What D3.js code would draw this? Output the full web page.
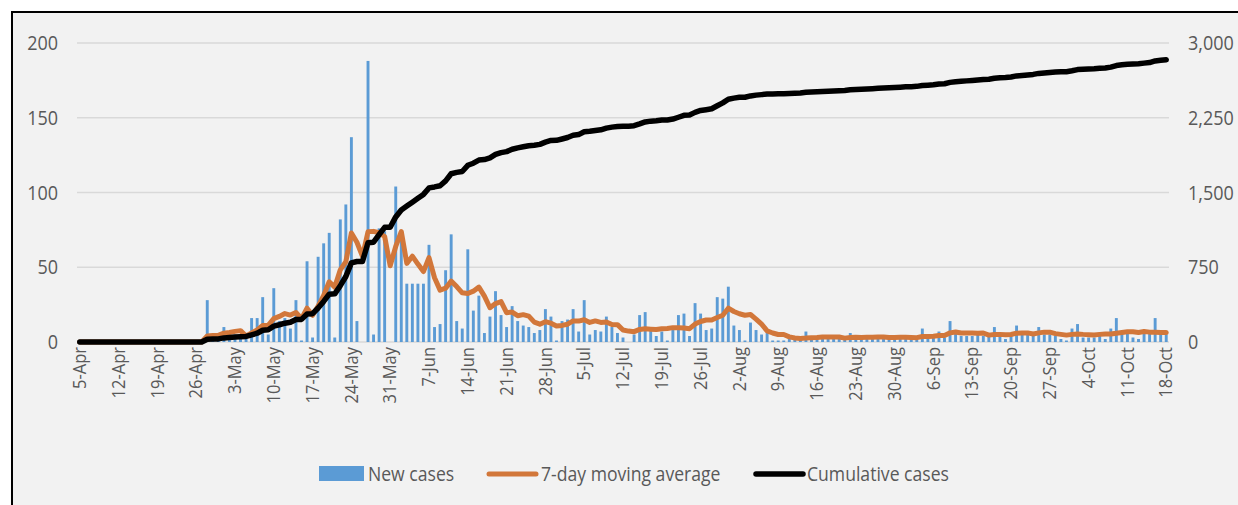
<!DOCTYPE html>
<html><head><meta charset="utf-8">
<script src="https://cdn.jsdelivr.net/npm/d3@7"></script>
<style>
html,body{margin:0;padding:0;background:#fff;}
svg{display:block;}
text{font-family:"Open Sans",sans-serif;fill:#595959;}
</style></head><body>
<svg id="chart" width="1238" height="505"></svg>
<script>
// Daily new cases, 5-Apr .. 18-Oct
const newCases = [
 0,0,0,0,0,0,0,
 0,0,0,0,0,0,0,
 0,0,0,0,0,0,0,
 0,0,28,2,1,10,4,
 5,3,3,16,16,30,5,
 36,14,16,9,28,1,54,
 3,57,66,73,3,82,92,
 137,14,0,188,5,76,74,
 0,104,70,39,39,39,39,
 65,10,12,48,72,14,9,
 62,21,31,6,17,34,18,
 10,24,14,11,10,6,8,
 22,17,1,14,15,22,7,
 28,5,8,7,17,10,6,
 3,0,5,18,20,8,4,
 7,1,9,18,19,4,26,
 19,8,9,30,29,37,11,
 8,1,13,8,5,6,1,
 1,1,2,3,3,7,3,
 2,3,2,3,3,2,6,
 3,2,3,3,4,3,3,
 3,3,3,2,3,9,3,
 4,7,3,14,7,4,4,
 4,5,4,4,10,5,2,
 5,11,5,5,5,10,5,
 5,4,2,1,9,12,3,
 3,3,5,2,9,16,7,
 6,3,2,6,6,16,6,
 5
];
// 7-day moving average
const movingAverage = [
 0,0,0,0,0,0,0,
 0,0,0,0,0,0,0,
 0,0,0,0,0,0,0,
 0,0,4.0,4.3,4.4,5.9,6.4,
 7.1,7.6,4.0,6.0,8.1,11.0,11.1,
 15.6,17.1,19.0,18.0,19.7,15.6,22.6,
 17.9,24.0,31.1,40.3,36.7,48.3,53.7,
 72.9,66.7,57.3,73.7,74.0,73.1,70.6,
 51.0,63.9,73.9,52.6,57.4,52.1,47.1,
 56.4,43.0,34.7,36.0,40.7,37.1,32.9,
 32.4,34.0,36.7,30.7,22.9,25.7,27.0,
 19.6,20.0,17.6,18.3,17.3,13.3,11.9,
 13.6,12.6,10.7,11.1,11.9,14.1,14.0,
 14.9,13.1,14.1,13.1,13.4,11.7,11.6,
 8.0,7.3,6.9,8.4,8.9,8.6,8.3,
 8.9,9.0,9.6,9.6,9.4,8.9,12.0,
 13.7,14.7,14.7,16.4,17.9,22.6,20.4,
 18.9,17.9,18.4,15.3,11.9,7.4,6.0,
 5.0,5.0,3.4,2.7,2.4,2.6,2.9,
 3.0,3.3,3.3,3.3,3.3,2.6,3.0,
 3.1,3.0,3.1,3.1,3.3,3.4,3.0,
 3.0,3.1,3.1,3.0,2.9,3.7,3.7,
 3.9,4.4,4.4,6.1,6.7,6.0,6.1,
 6.1,5.9,6.0,4.6,5.0,5.1,4.9,
 5.0,5.9,6.0,6.1,5.4,6.1,6.6,
 6.6,5.6,5.1,4.6,5.1,5.4,5.1,
 4.9,4.7,5.1,5.3,5.3,5.9,6.4,
 6.9,6.9,6.4,7.0,6.6,6.6,6.4,
 6.3
];
// Cumulative cases (right axis)
const cumulativeCases = [
 0,0,0,0,0,0,0,
 0,0,0,0,0,0,0,
 0,0,0,0,0,0,0,
 0,0,28,30,31,41,45,
 50,53,56,72,88,118,123,
 159,173,189,198,226,227,281,
 284,341,407,480,483,565,657,
 794,808,808,996,1001,1077,1151,
 1151,1255,1325,1364,1403,1442,1481,
 1546,1556,1568,1616,1688,1702,1711,
 1773,1794,1825,1831,1848,1882,1900,
 1910,1934,1948,1959,1969,1975,1983,
 2005,2022,2023,2037,2052,2074,2081,
 2109,2114,2122,2129,2146,2156,2162,
 2165,2165,2170,2188,2208,2216,2220,
 2227,2228,2237,2255,2274,2278,2304,
 2323,2331,2340,2370,2399,2436,2447,
 2455,2456,2469,2477,2482,2488,2489,
 2490,2491,2493,2496,2499,2506,2509,
 2511,2514,2516,2519,2522,2524,2530,
 2533,2535,2538,2541,2545,2548,2551,
 2554,2557,2560,2562,2565,2574,2577,
 2581,2588,2591,2605,2612,2616,2620,
 2624,2629,2633,2637,2647,2652,2654,
 2659,2670,2675,2680,2685,2695,2700,
 2705,2709,2711,2712,2721,2733,2736,
 2739,2742,2747,2749,2758,2774,2781,
 2787,2790,2792,2798,2804,2820,2826,
 2831
];
const xTickLabels = ["5-Apr","12-Apr","19-Apr","26-Apr","3-May","10-May","17-May","24-May","31-May",
 "7-Jun","14-Jun","21-Jun","28-Jun","5-Jul","12-Jul","19-Jul","26-Jul","2-Aug","9-Aug","16-Aug",
 "23-Aug","30-Aug","6-Sep","13-Sep","20-Sep","27-Sep","4-Oct","11-Oct","18-Oct"];
const leftTicks = [0,50,100,150,200];
const rightTicks = [0,750,1500,2250,3000];
const seriesNames = ["New cases","7-day moving average","Cumulative cases"];
const seriesColors = ["#5b9bd5","#d2773a","#000000"];

const fmtDay = d3.timeFormat("%-d-%b");
const categories = d3.timeDay.range(new Date(2020,3,5), new Date(2020,9,19)).map(fmtDay);

const svg = d3.select("#chart");
const plot = {left:77, right:1169, top:43, bottom:342};
const textY = 1.14; // reference glyphs are taller than wide

svg.append("rect").attr("x",12).attr("y",12).attr("width",1260).attr("height",530)
  .attr("fill","#f2f2f2").attr("stroke","#000").attr("stroke-width",2);

const x = d3.scaleBand().domain(categories).range([plot.left, plot.right]).padding(0);
const yL = d3.scaleLinear().domain([0,200]).range([plot.bottom, plot.top]);
const yR = d3.scaleLinear().domain([0,3000]).range([plot.bottom, plot.top]);
const bw = x.bandwidth();

// gridlines
svg.append("g").selectAll("line").data(leftTicks).join("line")
  .attr("x1",plot.left).attr("x2",plot.right)
  .attr("y1",d=>yL(d)).attr("y2",d=>yL(d))
  .attr("stroke","#d9d9d9").attr("stroke-width",1.6);

// left axis
const axL = svg.append("g").attr("transform",`translate(${plot.left},0)`)
  .call(d3.axisLeft(yL).tickValues(leftTicks).tickSize(0).tickPadding(19));
axL.select(".domain").remove();
axL.selectAll("text").attr("font-size",18).style("font-family","'Open Sans',sans-serif")
  .attr("fill","#595959").attr("transform",`scale(1,${textY})`);

// right axis
const axR = svg.append("g").attr("transform",`translate(${plot.right},0)`)
  .call(d3.axisRight(yR).tickValues(rightTicks).tickSize(0).tickPadding(19).tickFormat(d3.format(",")));
axR.select(".domain").remove();
axR.selectAll("text").attr("font-size",18).style("font-family","'Open Sans',sans-serif")
  .attr("fill","#595959").attr("transform",`scale(1,${textY})`);

// x axis
const axX = svg.append("g").attr("transform",`translate(0,${plot.bottom})`)
  .call(d3.axisBottom(x).tickValues(xTickLabels).tickSize(0));
axX.select(".domain").remove();
axX.selectAll("text")
  .attr("font-size",16.5).style("font-family","'Open Sans',sans-serif").attr("fill","#595959")
  .attr("text-anchor","end").attr("transform",`rotate(-90) scale(1,${textY})`)
  .attr("x",-5).attr("y",0).attr("dy","0.33em");

// bars
const barW = 2.9;
svg.append("g").selectAll("rect").data(newCases).join("rect")
  .attr("x",(d,i)=>x(categories[i]) + (bw-barW)/2)
  .attr("width",barW)
  .attr("y",d=>yL(d))
  .attr("height",d=>yL(0)-yL(d))
  .attr("fill",seriesColors[0]);

const cx = i => x(categories[i]) + bw/2;

svg.append("path").datum(movingAverage)
  .attr("d", d3.line().x((d,i)=>cx(i)).y(d=>yL(d)))
  .attr("fill","none").attr("stroke",seriesColors[1]).attr("stroke-width",5)
  .attr("stroke-linejoin","round").attr("stroke-linecap","round");

svg.append("path").datum(cumulativeCases)
  .attr("d", d3.line().x((d,i)=>cx(i)).y(d=>yR(d)))
  .attr("fill","none").attr("stroke",seriesColors[2]).attr("stroke-width",5.5)
  .attr("stroke-linejoin","round").attr("stroke-linecap","round");

// legend
const lg = svg.append("g").attr("font-size",17.6);
const ly = 474;
const legendText = (xx, s) => lg.append("text")
  .attr("transform",`translate(${xx},${ly}) scale(1,${textY})`)
  .attr("dy","0.35em").text(s);
lg.append("rect").attr("x",319).attr("y",466).attr("width",45).attr("height",15).attr("fill",seriesColors[0]);
legendText(368, seriesNames[0]);
lg.append("line").attr("x1",489).attr("x2",536).attr("y1",ly).attr("y2",ly)
  .attr("stroke",seriesColors[1]).attr("stroke-width",5).attr("stroke-linecap","round");
legendText(541, seriesNames[1]);
lg.append("line").attr("x1",756).attr("x2",803).attr("y1",ly).attr("y2",ly)
  .attr("stroke",seriesColors[2]).attr("stroke-width",5.5).attr("stroke-linecap","round");
legendText(807, seriesNames[2]);
</script>
</body></html>
